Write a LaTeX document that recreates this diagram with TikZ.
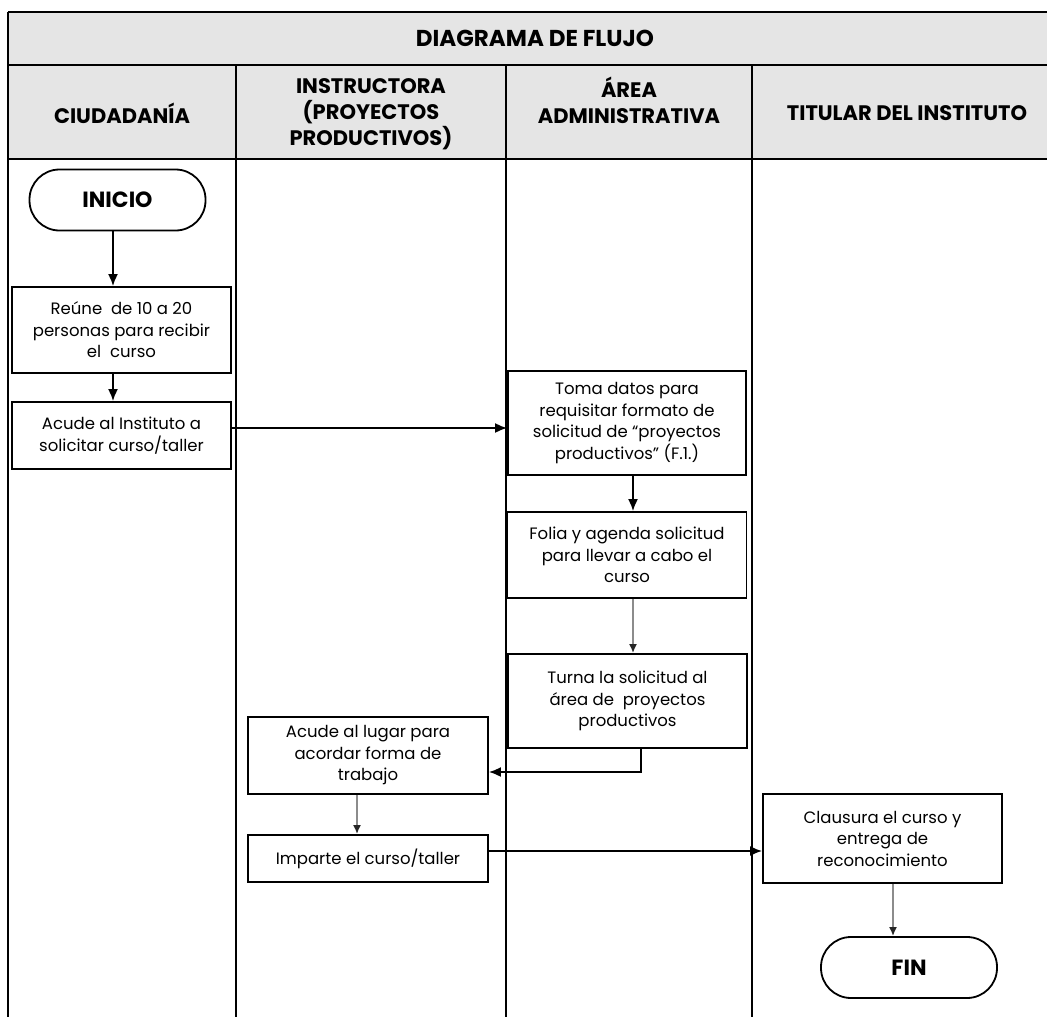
\documentclass[tikz,border=0pt]{standalone}
\usepackage{fontspec}
\setmainfont{Poppins}
\usetikzlibrary{arrows.meta}

\begin{document}
\begin{tikzpicture}
  [x=1pt,y=-1pt,>={Latex[length=12pt,width=10pt]},
   % Styles
   lane line/.style={line width=2.4pt},
   head text/.style={align=center,font=\fontsize{21}{26}\selectfont\bfseries},
   taskbox/.style={draw,line width=1.8pt,align=center,inner sep=2pt,
     font=\fontsize{16.5}{21.5}\selectfont},
   terminal/.style={draw,line width=1.8pt,rounded corners=30pt,
     minimum width=176pt,minimum height=61pt,font=\fontsize{22}{26}\selectfont\bfseries},
   flow/.style={->,line width=1.8pt},
   soft flow/.style={-{Latex[length=9pt,width=8pt,color=black!85]},line width=2.6pt,draw=black!45}]

  % Colors
  \colorlet{headcolor}{black!10}

  \useasboundingbox (0,0) rectangle (1047,1017);

  % The table
  \fill[headcolor] (8,12) rectangle (1047,159);
  \foreach \y in {12,65,159}
    \draw[lane line] (8,\y) -- (1047,\y);
  \draw[lane line] (8,12) -- (8,1017);
  \foreach \x in {236,506,752}
    \draw[lane line] (\x,65) -- (\x,1017);

  % Headings
  \node[head text,font=\fontsize{23}{26}\selectfont\bfseries] (title) at (535,38.5) {DIAGRAMA DE FLUJO};
  \node[head text] (lane1) at (122,113) {CIUDADANÍA};
  \node[head text] (lane2) at (371,114) {INSTRUCTORA\\(PROYECTOS\\PRODUCTIVOS)};
  \node[head text] (lane3) at (629,100.5) {ÁREA\\ADMINISTRATIVA};
  \node[head text] (lane4) at (907,113) {TITULAR DEL INSTITUTO};

  % The steps
  \node[terminal] (inicio) at (117.5,200) {INICIO};
  \node[taskbox,minimum width=219pt,minimum height=86pt] (reune) at (121.5,330)
    {Reúne\ \ de 10 a 20\\personas para recibir\\el\ \ curso};
  \node[taskbox,minimum width=219pt,minimum height=67pt] (acude) at (121.5,435.5)
    {Acude al Instituto a\\solicitar curso/taller};
  \node[taskbox,minimum width=238pt,minimum height=104pt] (toma) at (627,423)
    {Toma datos para\\requisitar formato de\\solicitud de “proyectos\\productivos" (F.1.)};
  \node[taskbox,minimum width=239pt,minimum height=86pt] (folia) at (627,555)
    {Folia y agenda solicitud\\para llevar a cabo el\\curso};
  \node[taskbox,minimum width=239pt,minimum height=94pt] (turna) at (627.5,701)
    {Turna la solicitud al\\área de\ \ proyectos\\productivos};
  \node[taskbox,minimum width=240pt,minimum height=77pt] (lugar) at (368,755.5)
    {Acude al lugar para\\acordar forma de\\trabajo};
  \node[taskbox,minimum width=240pt,minimum height=47pt] (imparte) at (368,858.5)
    {Imparte el curso/taller};
  \node[taskbox,minimum width=239pt,minimum height=89pt] (clausura) at (882.5,838.5)
    {Clausura el curso y\\entrega de\\reconocimiento};
  \node[terminal] (fin) at (909,967.5) {FIN};

  % The arrows
  \draw[flow] ([xshift=-4.5]inicio.south) -- ([xshift=-4.5]inicio.south |- reune.north);
  \draw[flow] ([xshift=-8.5]reune.south) -- ([xshift=-8.5]reune.south |- acude.north);
  \draw[flow] ([yshift=7.5]acude.east) -- ([yshift=7.5]acude.east -| toma.west);
  \draw[flow] ([xshift=6]toma.south) -- ([xshift=6]toma.south |- folia.north);
  \draw[soft flow] ([xshift=6]folia.south) -- ([xshift=6]folia.south |- turna.north);
  \draw[flow] ([xshift=13.5]turna.south) |- ([yshift=-16.5]lugar.east);
  \draw[soft flow] ([xshift=-11]lugar.south) -- ([xshift=-11]lugar.south |- imparte.north);
  \draw[flow] ([yshift=7.5]imparte.east) -- ([yshift=7.5]imparte.east -| clausura.west);
  \draw[soft flow] ([xshift=10.5]clausura.south) -- ([xshift=10.5]clausura.south |- fin.north);
\end{tikzpicture}
\end{document}
